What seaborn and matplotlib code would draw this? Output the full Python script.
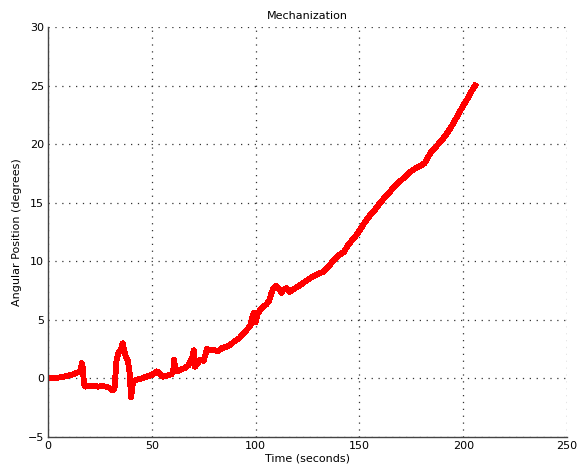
import matplotlib
matplotlib.use("Agg")
import matplotlib.pyplot as plt
import seaborn as sns
import pandas as pd

# Time samples (seconds) and mechanized angular position (degrees)
time_s = [0, 3, 6, 9, 12, 14, 15.5, 16.3, 16.8, 17.3, 18, 20, 22, 24, 26, 28, 29.5, 31, 32,
          33, 34, 35, 36, 36.8, 37.5, 38.5, 39.3, 40, 40.8, 41.5, 43, 45, 47.5, 50, 52.5, 54,
          55.5, 57.5, 59.5, 60.3, 60.8, 61.3, 62, 64, 66, 67.5, 68.5, 69.5, 70.2, 70.8, 72,
          73.5, 75, 76.5, 78, 80, 82, 84, 86, 88, 90, 92, 94, 96, 97.5, 98.5, 99.2, 100, 101,
          102, 103.5, 105, 106.5, 107.5, 108.5, 110, 111.5, 112.5, 113.5, 115, 116.5, 118,
          120, 122.5, 125, 127.5, 130, 132.5, 135, 137.5, 140, 142.5, 145, 147.5, 150, 152.5,
          155, 157.5, 160, 162.5, 165, 167.5, 170, 172.5, 175, 177.5, 180, 181.5, 183, 184.5,
          187, 190, 192.5, 195, 197.5, 200, 202.5, 204, 205.7]
angle_deg = [0, 0.02, 0.1, 0.2, 0.35, 0.5, 0.55, 1.3, 0.9, -0.5, -0.7, -0.65, -0.6, -0.7,
             -0.65, -0.7, -0.8, -1.0, -0.9, 1.5, 2.2, 2.4, 3.0, 2.3, 1.8, 1.5, 0.5, -1.6, -0.5,
             -0.2, -0.1, 0.0, 0.15, 0.3, 0.6, 0.35, 0.15, 0.25, 0.35, 0.6, 1.6, 0.7, 0.6, 0.75,
             0.9, 1.1, 1.4, 1.8, 2.4, 1.0, 1.3, 1.6, 1.5, 2.5, 2.4, 2.4, 2.35, 2.6, 2.7, 2.9,
             3.2, 3.4, 3.8, 4.2, 4.5, 5.3, 5.6, 4.8, 5.5, 5.8, 6.1, 6.3, 6.6, 7.2, 7.7, 7.9,
             7.6, 7.3, 7.6, 7.7, 7.4, 7.6, 7.8, 8.1, 8.4, 8.7, 8.9, 9.1, 9.5, 10.1, 10.5, 10.8,
             11.5, 12.0, 12.6, 13.3, 13.9, 14.4, 15.0, 15.5, 16.0, 16.5, 16.9, 17.3, 17.7,
             18.0, 18.2, 18.4, 18.9, 19.3, 19.8, 20.4, 21.0, 21.7, 22.5, 23.3, 24.0, 24.5, 25.0]

x_ticks = [0, 50, 100, 150, 200, 250]
y_ticks = [-5, 0, 5, 10, 15, 20, 25, 30]

df = pd.DataFrame({"Time": time_s, "Angle": angle_deg})

sns.set_theme(style="white")
plt.rcParams["font.family"] = ["DejaVu Sans"]
plt.rcParams["text.color"] = "black"
plt.rcParams["axes.labelcolor"] = "black"

fig = plt.figure(figsize=(5.77, 4.73), dpi=100)
ax = fig.add_axes([48 / 577, 36 / 473, 519 / 577, 410 / 473])

sns.lineplot(data=df, x="Time", y="Angle", ax=ax, color="#ff0000", linewidth=3.5,
             sort=False, estimator=None, antialiased=False,
             solid_joinstyle="round", solid_capstyle="projecting")

ax.set_xlim(0, 250)
ax.set_ylim(-5, 30)
ax.set_xticks(x_ticks)
ax.set_yticks(y_ticks)
ax.tick_params(direction="in", length=4, width=0.8, labelsize=8, colors="black",
               top=False, right=False, pad=3)
ax.grid(True, linestyle=(0, (1, 4.5)), color="#333333", linewidth=0.9)
for side in ("top", "right"):
    ax.spines[side].set_visible(False)
for side in ("left", "bottom"):
    ax.spines[side].set_color("#444444")
    ax.spines[side].set_linewidth(1.0)

ax.set_title("Mechanization", fontsize=8, pad=6, color="black")
ax.set_xlabel("Time (seconds)", fontsize=8, labelpad=2)
ax.set_ylabel("Angular Position (degrees)", fontsize=8, labelpad=4)

fig.savefig("out.png", dpi=100)
